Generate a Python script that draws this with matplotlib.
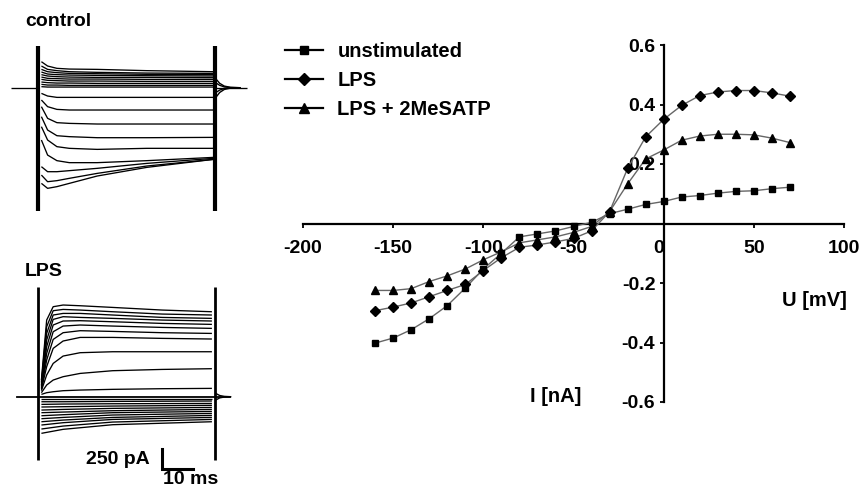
import matplotlib
matplotlib.use('Agg')
import matplotlib.pyplot as plt
from matplotlib.lines import Line2D

# ---------------- I-V data (nA vs mV) ----------------
voltage_mV = [-160, -150, -140, -130, -120, -110, -100, -90, -80, -70, -60, -50,
              -40, -30, -20, -10, 0, 10, 20, 30, 40, 50, 60, 70]
unstimulated_nA = [-0.402, -0.385, -0.357, -0.320, -0.276, -0.217, -0.153, -0.100,
                   -0.045, -0.035, -0.025, -0.010, 0.004, 0.033, 0.048, 0.064,
                   0.074, 0.089, 0.094, 0.102, 0.108, 0.110, 0.117, 0.122]
lps_nA = [-0.293, -0.281, -0.267, -0.246, -0.225, -0.205, -0.158, -0.115,
          -0.080, -0.072, -0.062, -0.050, -0.025, 0.040, 0.185, 0.291,
          0.350, 0.397, 0.430, 0.442, 0.447, 0.447, 0.439, 0.428]
lps_2mesatp_nA = [-0.225, -0.225, -0.219, -0.195, -0.176, -0.153, -0.122, -0.095,
                  -0.065, -0.055, -0.045, -0.030, -0.010, 0.040, 0.133, 0.217,
                  0.247, 0.280, 0.294, 0.300, 0.300, 0.298, 0.287, 0.272]
series_labels = ["unstimulated", "LPS", "LPS + 2MeSATP"]
x_ticks = [-200, -150, -100, -50, 0, 50, 100]
y_ticks = [-0.6, -0.4, -0.2, 0.2, 0.4, 0.6]

# ---------------- current traces (pA vs ms) ----------------
pulse_ms = 57
control_t = [1, 3, 6, 10, 19, 35, 56.5]
control_outward = [
    [325, 271, 242, 233, 229, 213, 200],
    [271, 229, 213, 200, 192, 183, 179],
    [229, 200, 188, 179, 175, 167, 163],
    [196, 171, 163, 158, 154, 150, 146],
    [163, 146, 138, 133, 129, 129, 125],
    [133, 117, 113, 108, 108, 104, 104],
    [104, 92, 88, 83, 83, 79, 79],
    [71, 63, 58, 58, 54, 54, 54],
    [42, 33, 33, 29, 29, 29, 29],
    [13, 8, 8, 8, 8, 8, 8],
]
control_inward = [
    [-71, -104, -121, -121, -121, -121, -121],
    [-154, -237, -271, -279, -279, -279, -279],
    [-237, -383, -437, -446, -454, -454, -454],
    [-362, -529, -600, -612, -625, -625, -621],
    [-487, -654, -737, -758, -771, -758, -758],
    [-654, -842, -912, -937, -937, -912, -871],
    [-987, -1050, -1050, -1037, -1008, -946, -883],
    [-1092, -1175, -1162, -1133, -1071, -979, -896],
    [-1196, -1258, -1237, -1196, -1104, -996, -896],
]
control_transient = [-1541, 521]
control_tail_t = [57.3, 58.5, 60, 62, 65]
control_tails = [
    [110, 55, 20, 5, 0],
    [60, 30, 10, 2, 0],
    [-60, -30, -10, -2, 0],
    [-120, -60, -22, -5, 0],
]
control_baseline_t = [-8.8, 67.3]

lps_t_out = [1, 2.7, 4.8, 8, 13.5, 24, 40, 56]
lps_outward = [
    [208, 958, 1125, 1146, 1137, 1116, 1083, 1062],
    [187, 875, 1075, 1091, 1083, 1062, 1033, 1021],
    [167, 791, 1021, 1041, 1041, 1021, 991, 979],
    [146, 708, 966, 1000, 991, 979, 958, 946],
    [133, 625, 896, 946, 950, 937, 916, 904],
    [117, 541, 812, 883, 896, 883, 866, 854],
    [104, 458, 716, 800, 825, 816, 800, 791],
    [92, 375, 604, 696, 741, 741, 729, 721],
    [75, 271, 416, 508, 550, 562, 562, 562],
    [50, 146, 208, 250, 291, 325, 341, 350],
    [29, 50, 62, 75, 83, 92, 100, 104],
]
lps_t_in = [1, 8, 24, 56]
lps_inward = [
    [-34, -34, -34, -34],
    [-63, -63, -59, -54],
    [-96, -92, -88, -84],
    [-129, -125, -117, -108],
    [-167, -159, -146, -134],
    [-200, -192, -175, -159],
    [-238, -225, -200, -184],
    [-275, -259, -229, -209],
    [-313, -292, -259, -234],
    [-354, -325, -284, -259],
    [-404, -367, -317, -284],
    [-458, -408, -350, -313],
]
lps_transient = [-791, 1371]
lps_tail_t = [57.3, 58.5, 60, 62]
lps_tails = [[40, 15, 4, 0], [-40, -15, -4, 0]]
lps_baseline_t = [-6.9, 61.8]

scalebar_pA = 250
scalebar_ms = 10

# ---------------- figure ----------------
plt.rcParams['font.family'] = ['Liberation Sans', 'DejaVu Sans']
plt.rcParams['font.weight'] = 'bold'
FS = 14.5
W, H = 862, 492
fig = plt.figure(figsize=(W / 100, H / 100), dpi=100)


def pix_axes(x0, y0, x1, y1):
    return fig.add_axes([x0 / W, 1 - y1 / H, (x1 - x0) / W, (y1 - y0) / H])


trace_kw = dict(color='black', lw=0.95, solid_capstyle='butt')

# control traces panel: 3.1 px/ms, 12.5 pA/px
axc = pix_axes(0, 0, 250, 240)
axc.set_xlim(-38.3 / 3.1, 211.7 / 3.1)
axc.set_ylim((87.7 - 240) * 12.5, 87.7 * 12.5)
axc.axis('off')
for tr in control_outward + control_inward:
    axc.plot(control_t, tr, **trace_kw)
for tr in control_tails:
    axc.plot(control_tail_t, tr, color='black', lw=1.0)
axc.plot([control_baseline_t[0], 0], [0, 0], **trace_kw)
axc.plot([pulse_ms, control_baseline_t[1]], [0, 0], **trace_kw)
axc.vlines([0, pulse_ms], control_transient[0], control_transient[1], color='black', lw=3.0)
fig.text(25 / W, 1 - 22 / H, 'control', fontsize=14, fontweight='bold', va='center', ha='left')

# LPS traces panel
axl = pix_axes(0, 250, 250, 492)
axl.set_xlim(-38.3 / 3.1, 211.7 / 3.1)
axl.set_ylim((396.7 - 492) * 12.5, (396.7 - 250) * 12.5)
axl.axis('off')
for tr in lps_outward:
    axl.plot(lps_t_out, tr, **trace_kw)
for tr in lps_inward:
    axl.plot(lps_t_in, tr, **trace_kw)
for tr in lps_tails:
    axl.plot(lps_tail_t, tr, color='black', lw=1.0)
axl.plot(lps_baseline_t, [0, 0], color='black', lw=1.3)
axl.vlines([0, pulse_ms], lps_transient[0], lps_transient[1], color='black', lw=2.0)
fig.text(25 / W, 1 - 272 / H, 'LPS', fontsize=14, fontweight='bold', va='center', ha='left')
# scale bar
sb_t0, sb_i0 = 40, -904
axl.plot([sb_t0, sb_t0, sb_t0 + scalebar_ms], [sb_i0 + scalebar_pA, sb_i0, sb_i0],
         color='black', lw=2.2, solid_joinstyle='miter')
axl.text(36, -785, f'{scalebar_pA} pA', fontsize=14, fontweight='bold', ha='right', va='center')
axl.text(40.2, -1035, f'{scalebar_ms} ms', fontsize=14, fontweight='bold', ha='left', va='center')

# ---------------- I-V plot ----------------
ax = pix_axes(303, 45, 844, 402)
ax.set_xlim(-200, 100)
ax.set_ylim(-0.6, 0.6)
for s in ['top', 'right']:
    ax.spines[s].set_visible(False)
ax.spines['left'].set_position(('data', 0))
ax.spines['bottom'].set_position(('data', 0))
for s in ['left', 'bottom']:
    ax.spines[s].set_linewidth(1.6)
ax.set_xticks(x_ticks)
ax.set_yticks(y_ticks)
ax.set_xticklabels([str(v) for v in x_ticks])
ax.set_yticklabels([f'{v:.1f}' for v in y_ticks])
ax.tick_params(axis='x', direction='out', length=3, width=1.3, pad=9, labelsize=14)
ax.tick_params(axis='y', direction='out', length=3, width=1.3, pad=3, labelsize=14)
for lab in ax.get_xticklabels():
    if lab.get_text() == '0':
        lab.set_ha('right')
ax.patch.set_alpha(0)

line_color = '#666666'
series = [(unstimulated_nA, 's', 5.0), (lps_nA, 'D', 5.0), (lps_2mesatp_nA, '^', 6.0)]
handles = []
for (vals, mk, ms), lab in zip(series, series_labels):
    ax.plot(voltage_mV, vals, color=line_color, lw=1.0, zorder=3)
    ax.plot(voltage_mV, vals, ls='none', marker=mk, ms=ms, mfc='black', mec='black', zorder=4)
    handles.append(Line2D([], [], color='black', lw=1.6, marker=mk, ms=ms + 1, mfc='black', mec='black'))

fig.legend(handles, series_labels, loc='upper left', bbox_to_anchor=(285 / W, 1 - 42 / H),
           frameon=False, fontsize=FS, handlelength=1.9, handletextpad=0.7,
           labelspacing=0.5, borderpad=0, borderaxespad=0)

fig.text(782 / W, 1 - 300 / H, 'U [mV]', fontsize=FS, fontweight='bold', ha='left', va='center')
fig.text(530 / W, 1 - 397 / H, 'I [nA]', fontsize=FS, fontweight='bold', ha='left', va='center')

fig.savefig('out.png', dpi=100)
